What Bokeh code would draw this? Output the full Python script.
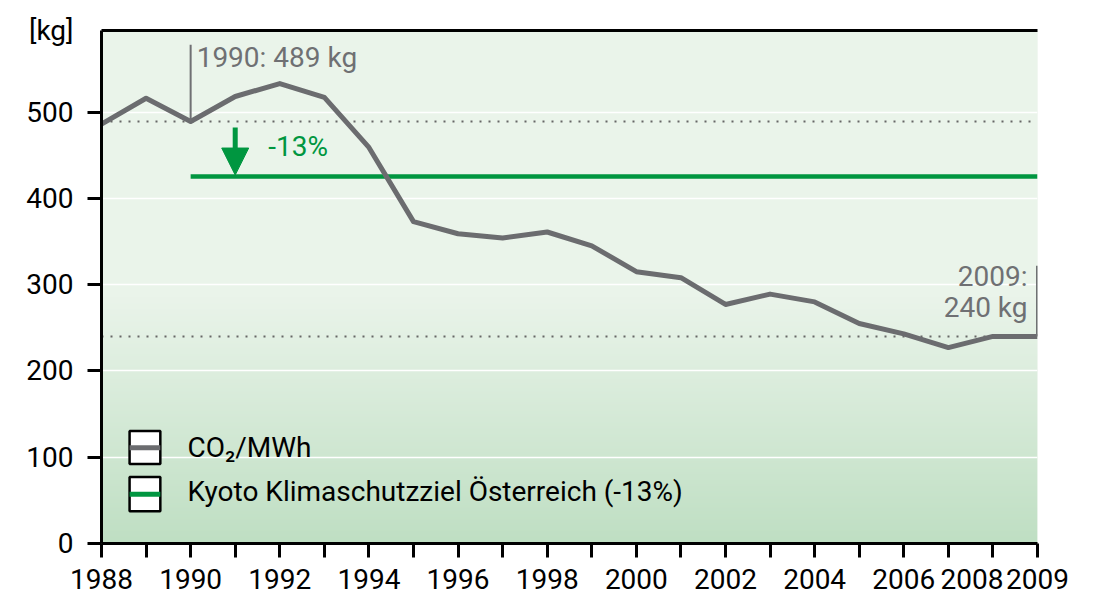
import numpy as np
from bokeh.plotting import figure
from bokeh.models import (Range1d, FixedTicker, LinearAxis, Label, Arrow, NormalHead,
                          CustomJSTickFormatter)
from bokeh.embed import file_html
from bokeh.resources import INLINE

# ---------------- data ----------------
years = list(range(1988, 2010))
co2_per_mwh = [486, 516, 489, 518, 533, 517, 459, 373, 359, 354, 361, 345,
               315, 308, 277, 289, 280, 255, 243, 227, 240, 240]
base_1990 = 489
value_2009 = 240
kyoto_reduction = 0.13
kyoto_target = base_1990 * (1 - kyoto_reduction)
kyoto_years = [1990, 2009]

y_ticks = [0, 100, 200, 300, 400, 500]
y_tick_labels = ["0", "100", "200", "300", "400", "500"]
y_unit = "[kg]"
x_tick_years = list(range(1988, 2010))
x_label_years = [1988, 1990, 1992, 1994, 1996, 1998, 2000, 2002, 2004, 2006, 2008, 2009]
x_label_texts = [str(y) for y in x_label_years]
x_label_shift = [0, 0, 0, 0, 0, 0, 0, 0, 0, 0, -0.47, 0]   # 2008 label nudged left

legend_labels = ["CO\u2082/MWh", "Kyoto Klimaschutzziel \u00d6sterreich (-13%)"]

# ---------------- style ----------------
FONT = "Roboto"
FS = "28px"
GRAY = "#6b6c6f"
TGRAY = "#6f7073"
GREEN = "#009640"
Y_TOP = 594.5
BASE_SHIFT = 11  # px correction for alphabetic baseline placement

p = figure(width=1096, height=601,
           x_range=Range1d(1988, 2009), y_range=Range1d(0, Y_TOP),
           output_backend="svg", toolbar_location=None,
           min_border_left=101, min_border_right=59,
           min_border_top=30, min_border_bottom=58)
p.outline_line_color = None
p.background_fill_color = "#e9f3e9"
p.border_fill_color = "white"

# gradient background
N = 600
vals = np.linspace(0, Y_TOP, N)
top_c = np.array([234, 244, 234])
bot_c = np.array([191, 223, 195])
t = np.clip(vals / 285.0, 0, 1)[:, None]
cols = (bot_c * (1 - t) + top_c * t).astype(np.uint32)
img = np.zeros((N, 2), dtype=np.uint32)
view = img.view(dtype=np.uint8).reshape((N, 2, 4))
view[:, :, 0] = cols[:, 0][:, None]
view[:, :, 1] = cols[:, 1][:, None]
view[:, :, 2] = cols[:, 2][:, None]
view[:, :, 3] = 255
p.image_rgba(image=[img], x=1988, y=0, dw=21, dh=Y_TOP, level="image")

# grid
p.xgrid.visible = False
p.ygrid.ticker = FixedTicker(ticks=[100, 200, 300, 400, 500])
p.ygrid.grid_line_color = "white"
p.ygrid.grid_line_width = 1.5

# x axis: minor ticks every year (visible), major ticks only carry labels
x_label_pos = [y + s for y, s in zip(x_label_years, x_label_shift)]
xa = p.xaxis[0]
xa.ticker = FixedTicker(ticks=x_label_pos, minor_ticks=x_tick_years)
xa.formatter = CustomJSTickFormatter(
    args=dict(pos=x_label_pos, txt=x_label_texts),
    code="const i = pos.findIndex(v => Math.abs(v - tick) < 1e-6); return i >= 0 ? txt[i] : '';")
xa.axis_line_width = 3
xa.axis_line_color = "black"
xa.major_tick_line_color = None
xa.major_tick_in = 0
xa.major_tick_out = 14
xa.minor_tick_line_color = "black"
xa.minor_tick_line_width = 3
xa.minor_tick_in = 0
xa.minor_tick_out = 14
xa.major_label_text_font = FONT
xa.major_label_text_font_size = FS
xa.major_label_text_color = "black"
xa.major_label_standoff = 11

# y axis: same idea, plus the unit label at the top
y_major = y_ticks + [594.0]
y_major_txt = y_tick_labels + [y_unit]
ya = p.yaxis[0]
ya.ticker = FixedTicker(ticks=y_major, minor_ticks=y_ticks)
ya.formatter = CustomJSTickFormatter(
    args=dict(pos=y_major, txt=y_major_txt),
    code="const i = pos.findIndex(v => Math.abs(v - tick) < 1e-6); return i >= 0 ? txt[i] : '';")
ya.axis_line_width = 3
ya.axis_line_color = "black"
ya.major_tick_line_color = None
ya.major_tick_in = 0
ya.major_tick_out = 14
ya.minor_tick_line_color = "black"
ya.minor_tick_line_width = 3
ya.minor_tick_in = 0
ya.minor_tick_out = 14
ya.major_label_text_font = FONT
ya.major_label_text_font_size = FS
ya.major_label_text_color = "black"
ya.major_label_standoff = 14

top_axis = LinearAxis(ticker=FixedTicker(ticks=[]), axis_line_width=3,
                      axis_line_color="black", major_label_text_font_size="12px",
                      major_tick_line_color=None, minor_tick_line_color=None)
p.add_layout(top_axis, "above")

# reference dotted lines
p.line(x=[1988, 2009], y=[base_1990, base_1990], line_color="#666666",
       line_width=2, line_dash="2 7")
p.line(x=[1988, 2009], y=[value_2009, value_2009], line_color="#666666",
       line_width=2, line_dash="2 7")

# kyoto target line
p.line(x=kyoto_years, y=[kyoto_target, kyoto_target], line_color=GREEN, line_width=4.5)

# main series
p.line(x=years, y=co2_per_mwh, line_color=GRAY, line_width=5, line_join="round")

# annotation leader lines
p.line(x=[1990, 1990], y=[base_1990, 578], line_color=TGRAY, line_width=2)
p.line(x=[2009, 2009], y=[value_2009, 322], line_color=TGRAY, line_width=3)

# arrow
p.add_layout(Arrow(x_start=1991, y_start=482, x_end=1991, y_end=427,
                   line_color=GREEN, line_width=5,
                   end=NormalHead(size=27, fill_color=GREEN, line_color=GREEN, line_width=1)))

def lab(x, y, text, color="black", align="left", xo=0, yo=0, size=FS):
    p.add_layout(Label(x=x, y=y, text=text, x_offset=xo, y_offset=yo + BASE_SHIFT,
                       text_font=FONT, text_font_size=size, text_color=color,
                       text_align=align, text_baseline="alphabetic"))

lab(1990, 550.5, "1990: 489 kg", TGRAY, xo=6)
lab(1991, 447, "-13%", GREEN, xo=33)
lab(2009, 296.5, "2009:", TGRAY, align="right", xo=-10)
lab(2009, 261, "240 kg", TGRAY, align="right", xo=-10)

# legend
leg_left = [1988.63, 1988.63]
leg_right = [1989.32, 1989.32]
leg_top = [130.5, 77.0]
leg_bottom = [92.0, 37.5]
leg_mid = [111.0, 57.0]
leg_colors = [GRAY, GREEN]
p.quad(left=leg_left, right=leg_right, top=leg_top, bottom=leg_bottom,
       fill_color="white", line_color="black", line_width=2.5)
p.segment(x0=leg_left, x1=leg_right, y0=leg_mid, y1=leg_mid,
          line_color=leg_colors, line_width=5)
lab(1989.93, 98, legend_labels[0], "black")
lab(1989.93, 47.3, legend_labels[1], "black")

open("out.html", "w").write(file_html(p, INLINE))
